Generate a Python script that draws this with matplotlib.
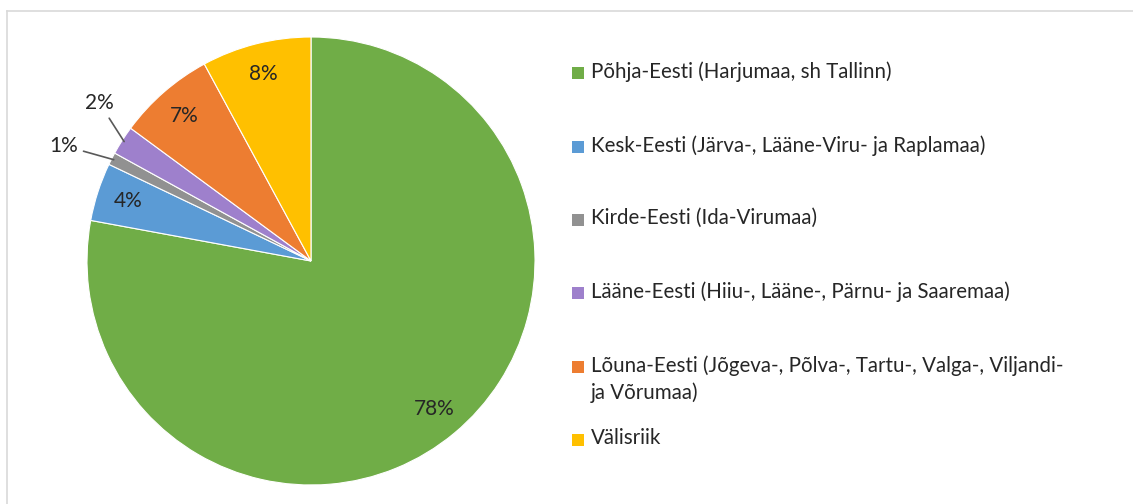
import numpy as np
import matplotlib.pyplot as plt
from matplotlib.lines import Line2D
from matplotlib.patches import Rectangle

plt.rcParams['font.family'] = ['Lato', 'DejaVu Sans']

labels = ['Põhja-Eesti (Harjumaa, sh Tallinn)',
          'Kesk-Eesti (Järva-, Lääne-Viru- ja Raplamaa)',
          'Kirde-Eesti (Ida-Virumaa)',
          'Lääne-Eesti (Hiiu-, Lääne-, Pärnu- ja Saaremaa)',
          'Lõuna-Eesti (Jõgeva-, Põlva-, Tartu-, Valga-, Viljandi-\nja Võrumaa)',
          'Välisriik']
shares = [77.9, 4.2, 0.9, 2.1, 7.0, 7.9]
colors = ['#70AD47', '#5B9BD5', '#919191', '#9E80CC', '#ED7D31', '#FFC000']

W, H = 1133, 504
fig = plt.figure(figsize=(W / 100, H / 100), dpi=100)

# pie axes placed in pixels: centre (311, 261), radius 224
cx, cy, r = 311, 261, 224
ax = fig.add_axes([(cx - r) / W, (H - cy - r) / H, 2 * r / W, 2 * r / H])
wedges, texts, autotexts = ax.pie(shares, colors=colors, startangle=90, counterclock=False,
                                  autopct='%.0f%%', pctdistance=0.86, radius=1,
                                  wedgeprops=dict(linewidth=0.8, edgecolor='white'),
                                  textprops=dict(fontsize=15, color='#262626'))
ax.set_xlim(-1, 1)
ax.set_ylim(-1, 1)
ax.set_aspect('equal')

# small slices get outside labels with leader lines
for i, (tx, ty) in {2: (-1.04, 0.515), 3: (-0.88, 0.705)}.items():
    t = autotexts[i]
    t.set_visible(False)
    w = wedges[i]
    ang = np.deg2rad((w.theta1 + w.theta2) / 2)
    px, py = np.cos(ang) * 0.99, np.sin(ang) * 0.99
    ax.annotate(t.get_text(), xy=(px, py), xytext=(tx, ty), fontsize=15, color='#262626',
                ha='right', va='center',
                arrowprops=dict(arrowstyle='-', color='#595959', lw=1.2,
                                shrinkA=2, shrinkB=0))

# legend drawn at Excel-like positions
leg_y = [73, 147, 220, 293, 367, 440]
for lab, col, y in zip(labels, colors, leg_y):
    fig.patches.append(Rectangle((572 / W, 1 - (y + 6) / H), 12 / W, 12 / H,
                                 transform=fig.transFigure, facecolor=col, edgecolor='none'))
    fig.text(591 / W, 1 - (y - 12) / H, lab, fontsize=14.8, color='#262626',
             ha='left', va='top', linespacing=1.42)

# light chart border (top and left only visible)
fig.add_artist(Line2D([7 / W, 1], [1 - 11 / H, 1 - 11 / H], color='#D9D9D9', lw=1.2))
fig.add_artist(Line2D([7 / W, 7 / W], [0, 1 - 11 / H], color='#D9D9D9', lw=1.2))

fig.savefig('out.png', dpi=100, facecolor='white')
